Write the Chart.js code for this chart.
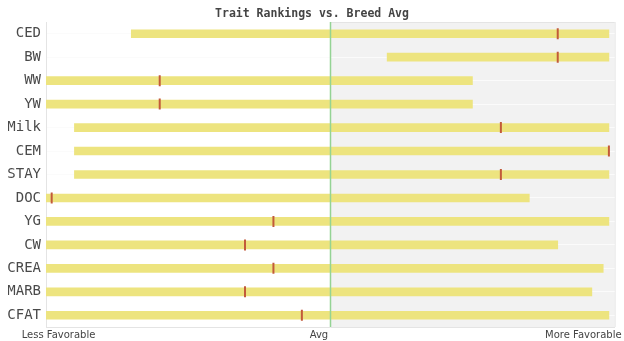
<!DOCTYPE html>
<html>
<head>
<meta charset="utf-8">
<title>Trait Rankings</title>
<script src="https://cdn.jsdelivr.net/npm/chart.js@4"></script>
<style>
    html, body { margin: 0; padding: 0; background: #fff; }
    .rankContainer { width: 624px; height: 341px; }
</style>
</head>
<body>
<div class="rankContainer">
    <canvas id="rankChart" width="624" height="341"></canvas>
</div>
<script>
const traits = ['CED', 'BW', 'WW', 'YW', 'Milk', 'CEM', 'STAY', 'DOC', 'YG', 'CW', 'CREA', 'MARB', 'CFAT'];
// percentile range for each trait (low, high) and the animal's own rank
const rangeLow  = [15, 60, 0, 0, 5, 5, 5, 0, 0, 0, 0, 0, 0];
const rangeHigh = [99, 99, 75, 75, 99, 99, 99, 85, 99, 90, 98, 96, 99];
const rankValue = [90, 90, 20, 20, 80, 99, 80, 1, 40, 35, 40, 35, 45];
const avgValue = 50;
const xTickValues = [2.2, 48, 94.5];
const xTickLabels = ['Less Favorable', 'Avg', 'More Favorable'];

// shade the "above average" half and draw the avg line
const avgShade = {
    id: 'avgShade',
    beforeDraw(chart) {
        const { ctx, chartArea, scales } = chart;
        const ax = scales.x.getPixelForValue(avgValue);
        ctx.save();
        ctx.fillStyle = '#f2f2f2';
        ctx.fillRect(ax, chartArea.top, chartArea.right - ax, chartArea.bottom - chartArea.top);
        ctx.strokeStyle = '#e4e4e4';
        ctx.lineWidth = 1;
        ctx.beginPath();
        ctx.moveTo(chartArea.right + 0.5, chartArea.top);
        ctx.lineTo(chartArea.right + 0.5, chartArea.bottom);
        ctx.moveTo(ax, chartArea.top + 0.5);
        ctx.lineTo(chartArea.right, chartArea.top + 0.5);
        ctx.stroke();
        ctx.restore();
    },
    afterDatasetsDraw(chart) {
        const { ctx, chartArea, scales } = chart;
        const ax = Math.round(scales.x.getPixelForValue(avgValue)) + 0.5;
        ctx.save();
        ctx.strokeStyle = '#94d394';
        ctx.lineWidth = 1.5;
        ctx.beginPath();
        ctx.moveTo(ax, chartArea.top);
        ctx.lineTo(ax, chartArea.bottom);
        ctx.stroke();
        ctx.restore();
    }
};

const ctx = document.getElementById('rankChart').getContext('2d');
const chart = new Chart(ctx, {
    type: 'bar',
    data: {
        labels: traits,
        datasets: [{
            type: 'scatter',
            data: traits.map((t, i) => ({ x: rankValue[i], y: t })),
            pointStyle: 'line',
            rotation: 90,
            radius: 5.5,
            borderWidth: 2,
            borderColor: '#c25a3a',
            backgroundColor: '#c25a3a',
            order: 0
        }, {
            data: traits.map((t, i) => [rangeLow[i], rangeHigh[i]]),
            backgroundColor: '#ede47f',
            borderWidth: 0,
            barThickness: 8,
            order: 1
        }]
    },
    options: {
        indexAxis: 'y',
        responsive: false,
        animation: false,
        layout: { padding: { left: 8, right: 8, top: 0, bottom: 0 } },
        plugins: {
            legend: { display: false },
            tooltip: { enabled: false },
            title: {
                display: true,
                text: 'Trait Rankings vs. Breed Avg',
                color: '#444',
                font: { family: 'DejaVu Sans Mono', size: 11.5, weight: 'bold' },
                padding: { top: 7, bottom: 1.2 }
            }
        },
        scales: {
            x: {
                type: 'linear',
                min: 0,
                max: 100,
                afterBuildTicks(scale) {
                    scale.ticks = xTickValues.map(v => ({ value: v }));
                },
                afterFit(scale) { scale.height = 14; },
                ticks: {
                    autoSkip: false,
                    maxRotation: 0,
                    padding: 2,
                    color: '#444',
                    font: { family: 'DejaVu Sans', size: 10 },
                    callback: (v) => xTickLabels[xTickValues.indexOf(v)]
                },
                grid: { display: false, drawTicks: false },
                border: { display: true, color: '#e4e4e4' }
            },
            y: {
                type: 'category',
                afterFit(scale) { scale.width = 38; },
                ticks: {
                    padding: 5,
                    color: '#4a4a4a',
                    font: { family: 'DejaVu Sans Mono', size: 14 }
                },
                grid: { offset: false, color: '#fbfbfb', drawTicks: false },
                border: { display: true, color: '#e4e4e4' }
            }
        }
    },
    plugins: [avgShade]
});
</script>
</body>
</html>
